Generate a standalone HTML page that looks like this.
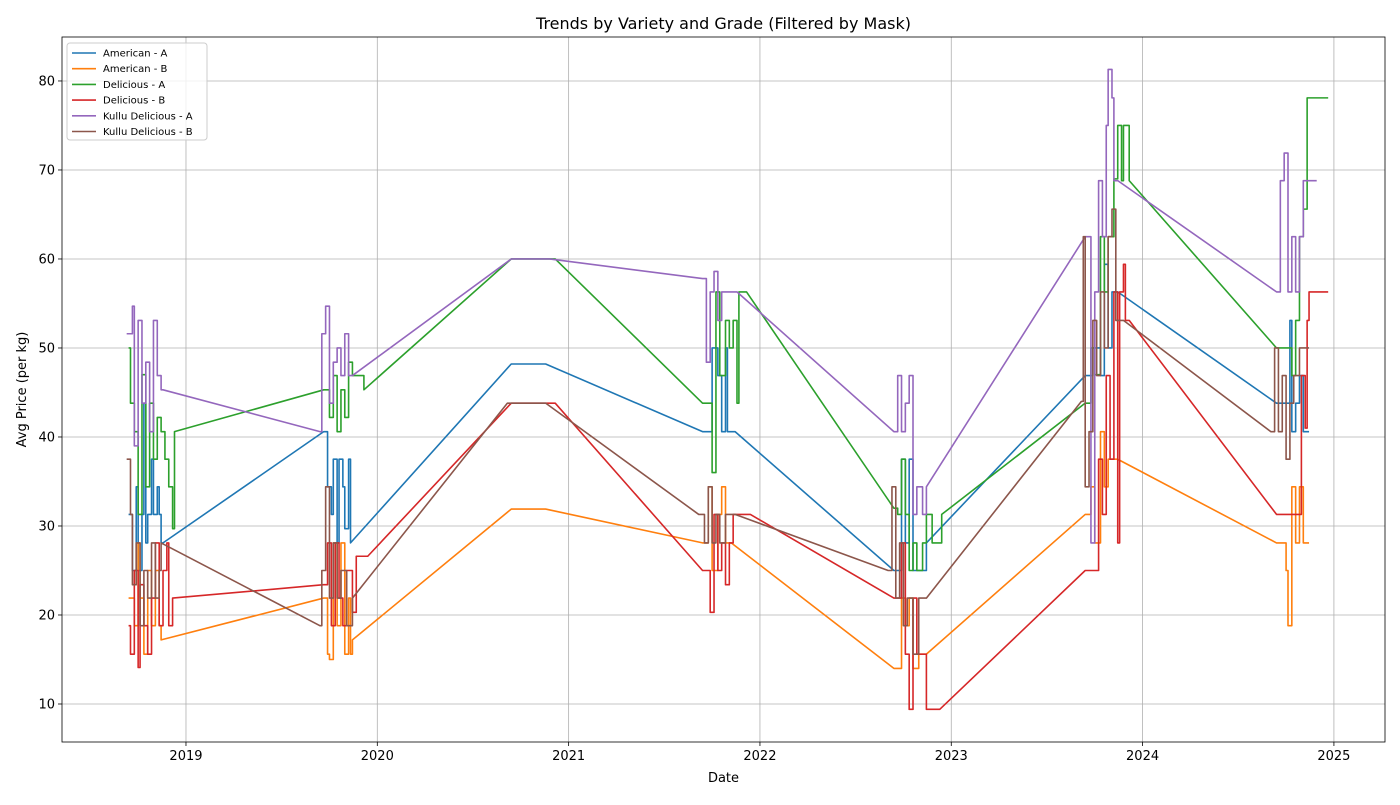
<!DOCTYPE html>
<html><head><meta charset="utf-8"><style>
body{margin:0;background:#fff;font-family:"Liberation Sans","DejaVu Sans",sans-serif}
svg text{font-family:"DejaVu Sans","Liberation Sans",sans-serif}
</style></head><body>
<svg id="chart" width="1400" height="800" xmlns="http://www.w3.org/2000/svg">
<rect width="1400" height="800" fill="#fff"/>
<g id="grid"></g><g id="series"></g><g id="axes"></g><g id="legend"></g>
</svg>
<script>
const xTicks=[2019,2020,2021,2022,2023,2024,2025];
const yTicks=[10,20,30,40,50,60,70,80];
const seriesNames=["American - A","American - B","Delicious - A","Delicious - B","Kullu Delicious - A","Kullu Delicious - B"];
const seriesColors=["#1f77b4","#ff7f0e","#2ca02c","#d62728","#9467bd","#8c564b"];
const americanA=[[2018.70,31.3],[2018.72,25],[2018.74,34.4],[2018.75,25],[2018.77,31.3],[2018.78,43.8],[2018.79,28.1],[2018.80,31.3],[2018.82,37.5],[2018.83,31.3],[2018.85,34.4],[2018.86,31.3],[2018.87,28.1],[2018.88,28.1],[2019.72,40.6],[2019.74,34.4],[2019.76,31.3],[2019.77,37.5],[2019.79,28.1],[2019.80,37.5],[2019.82,34.4],[2019.83,29.7],[2019.85,37.5],[2019.86,28.1],[2020.70,48.2],[2020.88,48.2],[2021.70,40.6],[2021.74,40.6],[2021.75,50],[2021.78,46.9],[2021.80,40.6],[2021.82,50],[2021.83,40.6],[2021.87,40.6],[2022.70,25],[2022.74,37.5],[2022.76,28.1],[2022.78,37.5],[2022.80,25],[2022.83,25],[2022.87,28.1],[2023.70,46.9],[2023.74,50],[2023.78,46.9],[2023.80,59.4],[2023.82,50],[2023.84,56.3],[2023.87,56.3],[2024.70,43.8],[2024.76,43.8],[2024.77,53.1],[2024.78,40.6],[2024.80,43.8],[2024.82,46.9],[2024.84,40.6],[2024.87,40.6]];
const americanB=[[2018.70,21.9],[2018.72,21.9],[2018.73,18.8],[2018.75,28.1],[2018.76,21.9],[2018.78,15.6],[2018.80,25],[2018.82,18.8],[2018.84,25],[2018.86,18.8],[2018.87,17.2],[2019.72,21.9],[2019.74,15.6],[2019.75,15],[2019.77,28.1],[2019.79,18.8],[2019.81,28.1],[2019.83,15.6],[2019.85,21.9],[2019.86,15.6],[2019.87,17.2],[2020.70,31.9],[2020.88,31.9],[2021.70,28.1],[2021.73,34.4],[2021.75,25],[2021.78,31.3],[2021.80,34.4],[2021.82,28.1],[2021.85,28.1],[2022.70,14],[2022.72,14],[2022.74,21.9],[2022.76,18.8],[2022.78,21.9],[2022.80,14],[2022.83,15.6],[2022.87,15.6],[2023.70,31.3],[2023.73,34.4],[2023.75,28.1],[2023.78,40.6],[2023.80,34.4],[2023.82,37.5],[2023.87,37.5],[2024.70,28.1],[2024.74,28.1],[2024.75,25],[2024.76,18.8],[2024.78,34.4],[2024.80,28.1],[2024.82,34.4],[2024.84,28.1],[2024.87,28.1]];
const deliciousA=[[2018.70,50],[2018.71,43.8],[2018.73,40.6],[2018.75,31.3],[2018.77,47],[2018.79,34.4],[2018.81,43.8],[2018.83,37.5],[2018.85,42.2],[2018.87,40.6],[2018.89,37.5],[2018.91,34.4],[2018.93,29.7],[2018.94,40.6],[2019.72,45.3],[2019.75,42.2],[2019.77,46.9],[2019.79,40.6],[2019.81,45.3],[2019.83,42.2],[2019.85,48.4],[2019.87,46.9],[2019.93,45.3],[2020.70,60],[2020.93,60],[2021.70,43.8],[2021.74,43.8],[2021.75,36],[2021.77,56.3],[2021.79,46.9],[2021.82,53.1],[2021.84,50],[2021.86,53.1],[2021.88,43.8],[2021.89,56.3],[2021.93,56.3],[2022.70,32],[2022.72,31.3],[2022.74,37.5],[2022.76,31.3],[2022.78,25],[2022.80,28.1],[2022.82,25],[2022.85,28.1],[2022.87,31.3],[2022.90,28.1],[2022.95,31.3],[2023.70,43.8],[2023.73,50],[2023.75,47],[2023.78,62.5],[2023.80,56.3],[2023.82,62.5],[2023.85,69],[2023.87,75],[2023.89,68.8],[2023.90,75],[2023.93,68.8],[2024.70,50],[2024.76,50],[2024.78,46.9],[2024.80,53.1],[2024.82,62.5],[2024.84,65.6],[2024.86,78.1],[2024.97,78.1]];
const deliciousB=[[2018.70,18.8],[2018.71,15.6],[2018.73,25],[2018.75,14.1],[2018.76,23.4],[2018.78,18.8],[2018.80,15.6],[2018.82,21.9],[2018.84,28.1],[2018.86,18.8],[2018.88,25],[2018.90,28.1],[2018.91,18.8],[2018.93,21.9],[2019.72,23.4],[2019.74,28.1],[2019.76,18.8],[2019.78,28.1],[2019.80,21.9],[2019.82,18.8],[2019.84,25],[2019.87,20.3],[2019.89,26.6],[2019.95,26.6],[2020.70,43.8],[2020.93,43.8],[2021.70,25],[2021.73,25],[2021.74,20.3],[2021.76,31.3],[2021.78,25],[2021.80,28.1],[2021.82,23.4],[2021.84,28.1],[2021.86,31.3],[2021.95,31.3],[2022.70,21.9],[2022.74,28.1],[2022.76,15.6],[2022.78,9.4],[2022.80,21.9],[2022.82,15.6],[2022.85,15.6],[2022.87,9.4],[2022.94,9.4],[2023.70,25],[2023.75,25],[2023.77,37.5],[2023.79,31.3],[2023.81,46.9],[2023.83,37.5],[2023.85,56.3],[2023.87,28.1],[2023.88,56.3],[2023.90,59.4],[2023.91,53.1],[2023.93,53.1],[2024.70,31.3],[2024.82,31.3],[2024.83,46.9],[2024.85,41],[2024.86,53.1],[2024.87,56.3],[2024.97,56.3]];
const kulluA=[[2018.69,51.6],[2018.71,51.6],[2018.72,54.7],[2018.73,39],[2018.75,53.1],[2018.77,43.8],[2018.79,48.4],[2018.81,40.6],[2018.83,53.1],[2018.85,46.9],[2018.87,45.3],[2018.88,45.3],[2019.70,40.6],[2019.71,51.6],[2019.73,54.7],[2019.75,43.8],[2019.77,48.4],[2019.79,50],[2019.81,46.9],[2019.83,51.6],[2019.85,46.9],[2019.87,46.9],[2020.70,60],[2020.90,60],[2021.70,57.8],[2021.72,48.4],[2021.74,56.3],[2021.76,58.6],[2021.78,53.1],[2021.80,56.3],[2021.84,56.3],[2021.88,56.3],[2022.70,40.6],[2022.72,46.9],[2022.74,40.6],[2022.76,43.8],[2022.78,46.9],[2022.80,31.3],[2022.82,34.4],[2022.85,31.3],[2022.87,34.4],[2023.70,62.5],[2023.72,62.5],[2023.73,28.1],[2023.75,56.3],[2023.77,68.8],[2023.79,62.5],[2023.81,75],[2023.82,81.3],[2023.84,78.1],[2023.85,68.8],[2023.87,68.8],[2024.70,56.3],[2024.72,68.8],[2024.74,71.9],[2024.76,56.3],[2024.78,62.5],[2024.80,56.3],[2024.82,62.5],[2024.84,68.8],[2024.91,68.8]];
const kulluB=[[2018.69,37.5],[2018.70,37.5],[2018.71,31.3],[2018.72,23.4],[2018.74,28.1],[2018.76,18.8],[2018.78,25],[2018.80,21.9],[2018.82,28.1],[2018.84,21.9],[2018.86,25],[2018.87,28.1],[2019.70,18.8],[2019.71,25],[2019.73,34.4],[2019.75,21.9],[2019.77,28.1],[2019.79,21.9],[2019.81,25],[2019.84,18.8],[2019.87,21.9],[2020.68,43.8],[2020.88,43.8],[2021.68,31.3],[2021.71,28.1],[2021.73,34.4],[2021.75,28.1],[2021.77,31.3],[2021.79,28.1],[2021.82,31.3],[2021.87,31.3],[2022.67,25],[2022.69,34.4],[2022.71,21.9],[2022.73,28.1],[2022.75,18.8],[2022.77,21.9],[2022.80,15.6],[2022.83,21.9],[2022.87,21.9],[2023.68,44],[2023.69,62.5],[2023.70,34.4],[2023.72,40.6],[2023.74,53.1],[2023.76,46.9],[2023.78,56.3],[2023.80,50],[2023.82,62.5],[2023.84,65.6],[2023.86,53.1],[2023.90,53.1],[2024.67,40.6],[2024.69,50],[2024.71,40.6],[2024.73,46.9],[2024.75,37.5],[2024.77,43.8],[2024.79,46.9],[2024.82,50],[2024.87,50]];
const allSeries=[americanA,americanB,deliciousA,deliciousB,kulluA,kulluB];

const L=62,R=1385,T=37,B=742,X0=2018.352,X1=2025.267,Y0=5.73,Y1=84.94;
const sx=v=>L+(v-X0)/(X1-X0)*(R-L);
const sy=v=>B-(v-Y0)/(Y1-Y0)*(B-T);
const NS="http://www.w3.org/2000/svg";
function mk(tag,attrs,parent,txt){const e=document.createElementNS(NS,tag);for(const k in attrs)e.setAttribute(k,attrs[k]);if(txt!==undefined)e.textContent=txt;parent.appendChild(e);return e;}
const grid=document.getElementById('grid'),axes=document.getElementById('axes'),ser=document.getElementById('series'),leg=document.getElementById('legend');
xTicks.forEach(t=>{const x=sx(t);
 const g=mk('line',{x1:x,x2:x,y1:T,y2:B,stroke:'#b0b0b0','stroke-width':0.8},grid);
 
 
 mk('line',{x1:x,x2:x,y1:B,y2:B+4,stroke:'#000','stroke-width':0.8},axes);
 const l=mk('text',{x:x,y:B+18,'text-anchor':'middle','font-size':13},axes,t);
 
 });
yTicks.forEach(t=>{const y=sy(t);
 const g=mk('line',{x1:L,x2:R,y1:y,y2:y,stroke:'#b0b0b0','stroke-width':0.8},grid);
 
 
 mk('line',{x1:L-4,x2:L,y1:y,y2:y,stroke:'#000','stroke-width':0.8},axes);
 const l=mk('text',{x:L-7,y:y+4.5,'text-anchor':'end','font-size':13},axes,t);
 
 });
allSeries.forEach((s,i)=>{
 let d='M'+sx(s[0][0])+','+sy(s[0][1]);
 for(let k=1;k<s.length;k++){
  const a=s[k-1],b=s[k];
  if(b[0]-a[0]<0.1){d+=' H'+sx(b[0])+' V'+sy(b[1]);}
  else{d+=' L'+sx(b[0])+','+sy(b[1]);}
 }
 const p=mk('path',{d:d,fill:'none',stroke:seriesColors[i],'stroke-width':1.6,'stroke-linejoin':'round'},ser);
 
 });
const frame=mk('rect',{x:L,y:T,width:R-L,height:B-T,fill:'none',stroke:'#000','stroke-width':0.8},axes);


const title=mk('text',{x:(L+R)/2,y:29,'text-anchor':'middle','font-size':16},axes,'Trends by Variety and Grade (Filtered by Mask)');


const xt=mk('text',{x:(L+R)/2,y:782,'text-anchor':'middle','font-size':13},axes,'Date');


const yt=mk('text',{x:26,y:(T+B)/2,'text-anchor':'middle','font-size':13,transform:'rotate(-90 26 '+(T+B)/2+')'},axes,'Avg Price (per kg)');


const lb=mk('rect',{x:67,y:43,width:140,height:97,fill:'#fff','fill-opacity':0.8,stroke:'#ccc',rx:3},leg);


seriesNames.forEach((n,i)=>{const y=53+i*15.7;
 mk('line',{x1:72,x2:96,y1:y,y2:y,stroke:seriesColors[i],'stroke-width':1.6},leg);
 const t=mk('text',{x:103,y:y+3.5,'font-size':10},leg,n);
 
 });
</script>
</body></html>
